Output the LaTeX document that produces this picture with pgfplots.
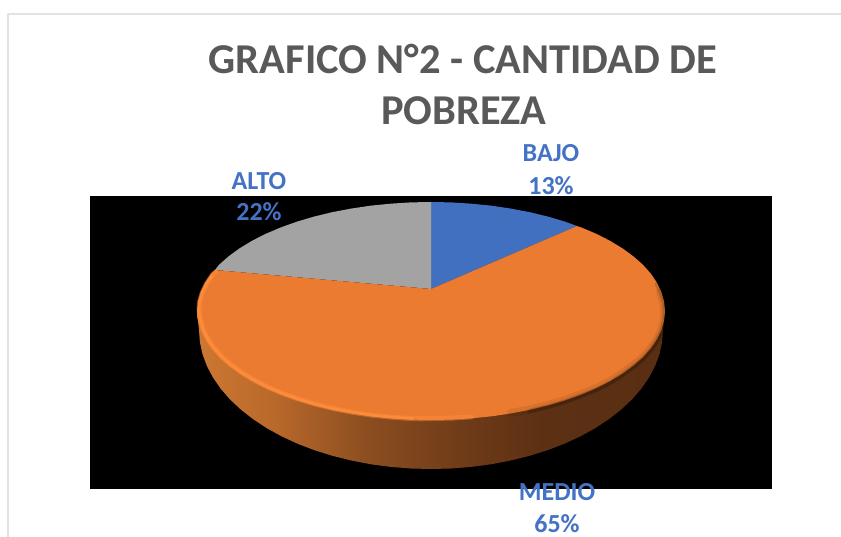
\documentclass[border=0pt]{standalone}
\usepackage{pgfplots}
\pgfplotsset{compat=1.18}
\usepackage{fontspec}
\setmainfont{Carlito}
\definecolor{titlec}{HTML}{595959}
\definecolor{labc}{HTML}{4472C4}
\definecolor{orangef}{HTML}{EB7B30}
\definecolor{rimc}{HTML}{FF8D3C}
\definecolor{greyf}{HTML}{A3A3A3}
\definecolor{bluef}{HTML}{4170C0}
\definecolor{frame}{HTML}{E2E2E2}
\pgfdeclarehorizontalshading{wall}{100bp}{
 color(0bp)=(rgb,255:red,205;green,120;blue,50);
 color(25bp)=(rgb,255:red,205;green,120;blue,50);
 color(33bp)=(rgb,255:red,186;green,105;blue,43);
 color(43bp)=(rgb,255:red,140;green,78;blue,32);
 color(53bp)=(rgb,255:red,112;green,60;blue,24);
 color(62bp)=(rgb,255:red,92;green,48;blue,19);
 color(75bp)=(rgb,255:red,90;green,46;blue,18);
 color(100bp)=(rgb,255:red,90;green,46;blue,18)}
\begin{document}
\begin{tikzpicture}
\begin{axis}[
  scale only axis, width=841pt, height=537pt,
  xmin=0, xmax=841, ymin=0, ymax=537, y dir=reverse,
  hide axis, clip=true, no markers,
  every axis plot/.append style={line join=round}]
% page
\addplot[fill=white, draw=none] coordinates {(0,0)(841,0)(841,537)(0,537)} --cycle;
% frame
\addplot[draw=frame, line width=2pt] coordinates {(8,537)(8,14)(841,14)};
% black plot area
\addplot[fill=black, draw=none] coordinates {(90,196)(772,196)(772,489)(90,489)} --cycle;
% side wall
\addplot[draw=none, shading=wall] coordinates {
(665,311)(663,330)(662.1,342.1)(659.5,354.1)(655.1,366)(649,377.5)(641.3,388.7)(631.9,399.5)(621,409.7)(608.7,419.3)(595,428.3)(580.1,436.5)(564,443.9)(547,450.4)(529,456)(510.3,460.6)(491,464.3)(471.3,466.9)(451.2,468.5)(431,469)
(410.8,468.5)(390.7,466.9)(371,464.3)(351.7,460.6)(333,456)(315,450.4)(298,443.9)(281.9,436.5)(267,428.3)(253.3,419.3)(241,409.7)(230.1,399.5)(220.7,388.7)(213,377.5)(206.9,366)(202.5,354.1)(199.9,342.1)(199,330)(197,311)} --cycle;
% BAJO 13%
\addplot[fill=bluef, draw=none] coordinates {
(431,289)(431,202)(451.4,202.4)(471.6,203.7)(491.6,205.7)(511,208.6)(529.9,212.2)(548,216.6)(565.2,221.7)(577,226)} --cycle;
% ALTO 22%
\addplot[fill=greyf, draw=none] coordinates {
(431,289)(431,202)(410.6,202.4)(390.4,203.7)(370.4,205.7)(351,208.6)(332.1,212.2)(314,216.6)(296.8,221.7)(280.6,227.5)(265.5,233.9)(251.8,240.9)(239.3,248.5)(228.4,256.5)(218.9,264.9)(215,270)} --cycle;
% MEDIO 65%
\addplot[fill=orangef, draw=none] coordinates {
(431,289)(577,226)(581.4,227.5)(596.5,233.9)(610.2,240.9)(622.7,248.5)(633.6,256.5)(643.1,264.9)(650.9,273.7)(657,282.8)(661.4,292.1)(664.1,301.5)(665,311)
(664.1,320.5)(661.4,329.9)(657,339.2)(650.9,348.3)(643.1,357.1)(633.6,365.5)(622.7,373.5)(610.2,381.1)(596.5,388.1)(581.4,394.5)(565.2,400.3)(548,405.4)(529.9,409.8)(511,413.4)(491.6,416.3)(471.6,418.3)(451.4,419.6)(431,420)
(410.6,419.6)(390.4,418.3)(370.4,416.3)(351,413.4)(332.1,409.8)(314,405.4)(296.8,400.3)(280.6,394.5)(265.5,388.1)(251.8,381.1)(239.3,373.5)(228.4,365.5)(218.9,357.1)(211.1,348.3)(205,339.2)(200.6,329.9)(197.9,320.5)(197,311)(197.9,301.5)(200.6,292.1)(205,282.8)(211.1,273.7)(215,270)} --cycle;
% bright rim, lower left (two passes for a soft edge)
\addplot[draw=rimc, line width=5pt, opacity=.45, line cap=round] coordinates {
(216,272)(212.6,274.7)(206.5,283.8)(202.1,293.1)(199.4,302.5)(199,311)(200.4,319.5)(203.1,328.9)(207.5,338.2)(213.6,347.3)(221.4,356.1)(230.9,364.5)(241.8,372.5)(254.3,380.1)(268,387.1)(283.1,393.5)(299.3,399.3)(316.5,404.4)(334.6,408.8)(353.5,412.4)(372.9,415.3)(392.9,417.3)(413.1,418.6)(431,418.5)(451.4,418.1)(471.6,416.8)};
\addplot[draw=rimc, line width=2.5pt, opacity=.8, line cap=round] coordinates {
(212,276)(206.5,283.8)(202.1,293.1)(199.4,302.5)(199,311)(200.4,319.5)(203.1,328.9)(207.5,338.2)(213.6,347.3)(221.4,356.1)(230.9,364.5)(241.8,372.5)(254.3,380.1)(268,387.1)(283.1,393.5)(299.3,399.3)(316.5,404.4)(334.6,408.8)(353.5,412.4)(372.9,415.3)(392.9,417.3)(413.1,418.6)};
% dark rim, lower right
\addplot[draw=black, line width=8pt, opacity=.08, line cap=round] coordinates {
(511,413)(529.9,409.5)(548,405)(565.2,400)(581.4,394)(596.5,388)(610.2,381)(622.7,373)(633.6,365)(643.1,357)(650.9,348)(657,339)(661.4,330)(664.1,320)(664,311)(663,301)(660,292)};
\addplot[draw=black, line width=4.5pt, opacity=.16, line cap=round] coordinates {
(529.9,411)(548,406.5)(565.2,401.5)(581.4,395.5)(596.5,389.5)(610.2,382.5)(622.7,374.5)(633.6,366.5)(643.1,358.5)(650.9,349.5)(657,340.5)(661.4,331.5)(664.1,321.5)(665,312)(664,302)(661,293)(657,284)};
% title and labels
\node[anchor=base, text=titlec, font=\fontsize{42.5}{43}\selectfont\bfseries] at (axis cs:463,74) {GRAFICO N°2 - CANTIDAD DE};
\node[anchor=base, text=titlec, font=\fontsize{42.5}{43}\selectfont\bfseries] at (axis cs:464,125) {POBREZA};
\node[anchor=base, text=labc, font=\fontsize{26}{26}\selectfont\bfseries] at (axis cs:551,162) {BAJO};
\node[anchor=base, text=labc, font=\fontsize{26}{26}\selectfont\bfseries] at (axis cs:551,195) {13\%};
\node[anchor=base, text=labc, font=\fontsize{26}{26}\selectfont\bfseries] at (axis cs:259,190) {ALTO};
\node[anchor=base, text=labc, font=\fontsize{26}{26}\selectfont\bfseries] at (axis cs:259,221) {22\%};
\node[anchor=base, text=labc, font=\fontsize{26}{26}\selectfont\bfseries] at (axis cs:557,500) {MEDIO};
\node[anchor=base, text=labc, inner sep=0pt, font=\fontsize{26}{26}\selectfont\bfseries] at (axis cs:557,532) {65\%};
\end{axis}
\end{tikzpicture}
\end{document}
